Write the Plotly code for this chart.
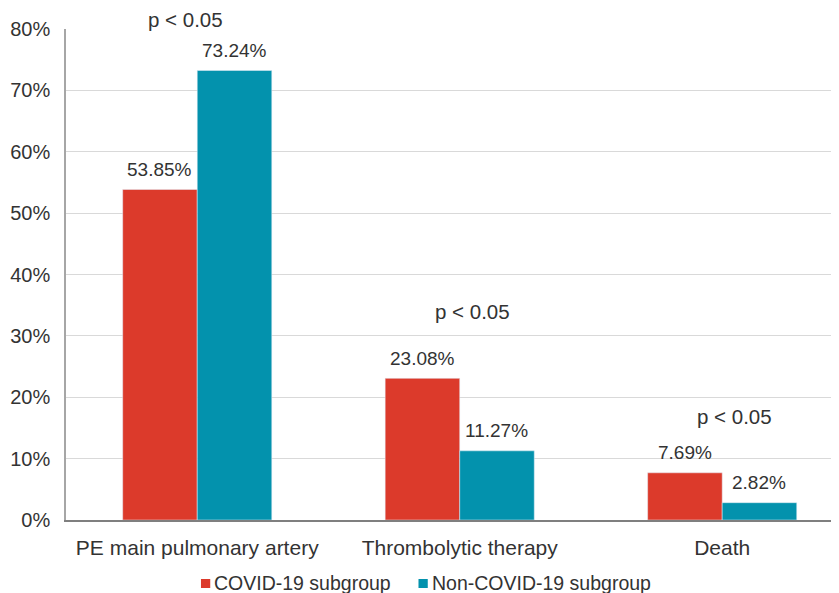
import plotly.graph_objects as go

categories = ["PE main pulmonary artery", "Thrombolytic therapy", "Death"]
covid = [53.85, 23.08, 7.69]
non_covid = [73.24, 11.27, 2.82]
series_names = ["COVID-19 subgroup", "Non-COVID-19 subgroup"]
p_labels = ["p < 0.05", "p < 0.05", "p < 0.05"]
p_y = [81.6, 33.9, 16.8]
p_xoff = [-0.046, 0.05, 0.046]
y_ticks = [0, 10, 20, 30, 40, 50, 60, 70, 80]
Y_MAX = 80

RED = "#DC3A2B"
TEAL = "#0392AD"
TXT = "#333333"
FONT = "Liberation Sans, Arial, sans-serif"
BARGAP = 0.432
COLORS = [RED, TEAL]

fig = go.Figure()
fig.add_bar(x=categories, y=covid, name=series_names[0], marker_color=RED, showlegend=False)
fig.add_bar(x=categories, y=non_covid, name=series_names[1], marker_color=TEAL, showlegend=False)

half = (1 - BARGAP) / 4
annotations = []
for i, (a, b) in enumerate(zip(covid, non_covid)):
    annotations.append(dict(x=i - half, y=a, xref="x", yref="y", text=f"{a:.2f}%",
                            showarrow=False, yshift=20, xanchor="center", yanchor="middle",
                            font=dict(size=19, color=TXT, family=FONT)))
    annotations.append(dict(x=i + half, y=b, xref="x", yref="y", text=f"{b:.2f}%",
                            showarrow=False, yshift=20, xanchor="center", yanchor="middle",
                            font=dict(size=19, color=TXT, family=FONT)))
for i, (t, yv, dx) in enumerate(zip(p_labels, p_y, p_xoff)):
    annotations.append(dict(x=i + dx, y=yv / Y_MAX, xref="x", yref="paper", text=t, showarrow=False,
                            xanchor="center", yanchor="middle",
                            font=dict(size=20.5, color=TXT, family=FONT)))

# hand-placed legend (squares + real text), in paper coordinates
leg_sq_x = [0.1746, 0.4560]
leg_sq_w = 0.0120
leg_sq_y = (-0.1385, -0.1202)
leg_txt_x = [0.1890, 0.4712]
leg_txt_y = -0.1283
shapes = []
for name, col, sx, tx in zip(series_names, COLORS, leg_sq_x, leg_txt_x):
    shapes.append(dict(type="rect", xref="paper", yref="paper", x0=sx, x1=sx + leg_sq_w,
                       y0=leg_sq_y[0], y1=leg_sq_y[1], fillcolor=col, line=dict(width=0)))
    annotations.append(dict(x=tx, y=leg_txt_y, xref="paper", yref="paper", text=name,
                            showarrow=False, xanchor="left", yanchor="middle",
                            font=dict(size=19.5, color=TXT, family=FONT)))

fig.update_layout(
    width=831, height=585,
    margin=dict(l=58, r=0, t=21, b=73),
    plot_bgcolor="white", paper_bgcolor="white",
    barmode="group", bargap=BARGAP, bargroupgap=0,
    font=dict(family=FONT, color=TXT, size=20),
    annotations=annotations,
    shapes=shapes,
    showlegend=False,
    xaxis=dict(showline=True, linecolor="#7f7f7f", linewidth=1.5, ticks="",
               range=[-0.5, 2.445],
               tickfont=dict(size=21, color=TXT), ticklabelstandoff=8, showgrid=False,
               automargin=False),
    yaxis=dict(range=[0, Y_MAX], tickvals=y_ticks, ticktext=[f"{v}%" for v in y_ticks],
               showgrid=True, gridcolor="#d9d9d9", gridwidth=1,
               showline=True, linecolor="#a6a6a6", linewidth=1.5, ticks="",
               tickfont=dict(size=20, color=TXT), ticklabelstandoff=10, zeroline=False,
               automargin=False),
)

fig.write_html("out.html")
